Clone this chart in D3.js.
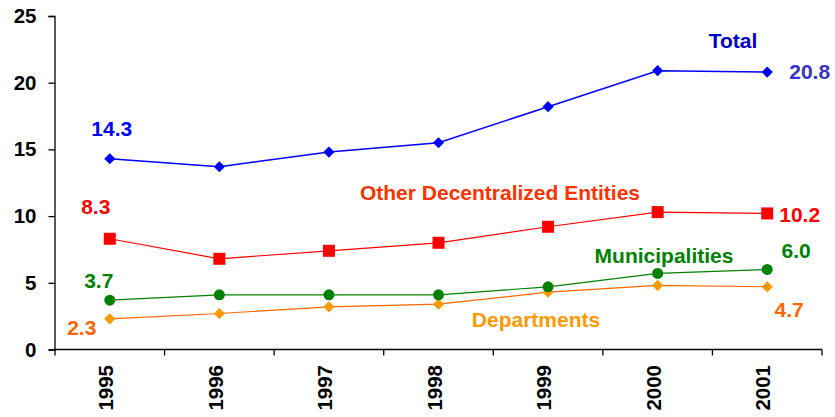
<!DOCTYPE html>
<html>
<head>
<meta charset="utf-8">
<script src="https://cdn.jsdelivr.net/npm/d3@7"></script>
<style>
  html, body { margin: 0; padding: 0; background: #fff; }
  svg { display: block; font-family: "Liberation Sans", Arial, sans-serif; font-weight: bold; }
</style>
</head>
<body>
<svg id="chart" width="835" height="417"></svg>
<script>
// Years on the category axis
const years = ["1995", "1996", "1997", "1998", "1999", "2000", "2001"];
// Series values (trillions)
const total = [14.3, 13.7, 14.8, 15.5, 18.2, 20.9, 20.8];
const otherEntities = [8.3, 6.8, 7.4, 8.0, 9.2, 10.3, 10.2];
const municipalities = [3.7, 4.1, 4.1, 4.1, 4.7, 5.7, 6.0];
const departments = [2.3, 2.7, 3.2, 3.4, 4.3, 4.8, 4.7];
const yTicks = [0, 5, 10, 15, 20, 25];

const svg = d3.select("#chart");

const x = d3.scaleBand().domain(years).range([55, 822]).paddingInner(0).paddingOuter(0);
const y = d3.scaleLinear().domain([0, 25]).range([349.5, 16]);
const cx = d => x(d) + x.bandwidth() / 2;

// Y axis
const yAxis = svg.append("g")
  .attr("transform", "translate(54.5,0)")
  .call(d3.axisLeft(y).tickValues(yTicks).tickSize(6).tickPadding(12).tickFormat(d3.format("d")));
yAxis.selectAll("path, line").attr("stroke", "#000").attr("stroke-width", 1.3);
yAxis.selectAll("text").attr("font-size", 20.5).attr("font-weight", "bold").attr("fill", "#000")
  .attr("font-family", "Liberation Sans, Arial, sans-serif");

// X axis: ticks sit on the boundaries between years
const xAxis = svg.append("g").attr("transform", `translate(0,${y(0)})`);
xAxis.append("line").attr("x1", 54.5).attr("x2", x.range()[1]).attr("stroke", "#000").attr("stroke-width", 1.3);
const boundaries = years.map(d => x(d)).concat([x(years[years.length - 1]) + x.bandwidth()]);
xAxis.selectAll("line.tick").data(boundaries).enter().append("line")
  .attr("class", "tick")
  .attr("x1", d => d).attr("x2", d => d).attr("y1", 0).attr("y2", 6)
  .attr("stroke", "#000").attr("stroke-width", 1.3);
xAxis.selectAll("text").data(years).enter().append("text")
  .attr("transform", d => `translate(${cx(d) - 4},${365 - y(0)}) rotate(-90)`)
  .attr("dy", "0.35em")
  .attr("text-anchor", "end")
  .attr("font-size", 20.5).attr("fill", "#000")
  .text(d => d);

const line = d3.line().x((d, i) => cx(years[i])).y(d => y(d));

const diamond = d3.symbol().type(d3.symbolDiamond2);

function drawSeries(values, lineColor, lineWidth, marker, markerColor) {
  const g = svg.append("g");
  g.append("path").datum(values).attr("d", line)
    .attr("fill", "none").attr("stroke", lineColor).attr("stroke-width", lineWidth);
  const pts = g.selectAll("g.pt").data(values).enter().append("g")
    .attr("transform", (d, i) => `translate(${cx(years[i])},${y(d)})`);
  if (marker === "diamond") {
    pts.append("path").attr("d", diamond.size(80)()).attr("fill", markerColor);
  } else if (marker === "square") {
    pts.append("rect").attr("x", -6).attr("y", -6).attr("width", 12).attr("height", 12).attr("fill", markerColor);
  } else {
    pts.append("circle").attr("r", 5.5).attr("fill", markerColor);
  }
}

drawSeries(departments, "#FF6600", 1.2, "diamond", "#FF9900");
drawSeries(municipalities, "#008000", 1.2, "circle", "#008000");
drawSeries(otherEntities, "#FF0000", 1.2, "square", "#FF0000");
drawSeries(total, "#0000FF", 1.5, "diamond", "#0000FF");

// Text labels: series names and first/last values
const last = years.length - 1;
const labels = [
  { text: total[0].toFixed(1), x: cx(years[0]) + 2, y: 136, anchor: "middle", color: "#0000FF" },
  { text: total[last].toFixed(1), x: cx(years[last]) + 22, y: 79, anchor: "start", color: "#3333CC" },
  { text: "Total", x: 733, y: 48, anchor: "middle", color: "#0000CC" },
  { text: otherEntities[0].toFixed(1), x: cx(years[0]) - 14, y: 214, anchor: "middle", color: "#FF0000" },
  { text: otherEntities[last].toFixed(1), x: cx(years[last]) + 12, y: 222, anchor: "start", color: "#FF0000" },
  { text: "Other Decentralized Entities", x: 500, y: 200, anchor: "middle", color: "#FF3300" },
  { text: municipalities[0].toFixed(1), x: cx(years[0]) - 11, y: 288, anchor: "middle", color: "#008000" },
  { text: municipalities[last].toFixed(1), x: cx(years[last]) + 29, y: 258, anchor: "middle", color: "#008000" },
  { text: "Municipalities", x: 664, y: 263, anchor: "middle", color: "#008000" },
  { text: departments[0].toFixed(1), x: cx(years[0]) - 28, y: 335, anchor: "middle", color: "#FF6600" },
  { text: departments[last].toFixed(1), x: cx(years[last]) + 22, y: 316.5, anchor: "middle", color: "#FF6600" },
  { text: "Departments", x: 536, y: 326.5, anchor: "middle", color: "#FF9900" }
];
svg.append("g").selectAll("text").data(labels).enter().append("text")
  .attr("x", d => d.x).attr("y", d => d.y)
  .attr("text-anchor", d => d.anchor)
  .attr("font-size", 21)
  .attr("fill", d => d.color)
  .text(d => d.text);
</script>
</body>
</html>
